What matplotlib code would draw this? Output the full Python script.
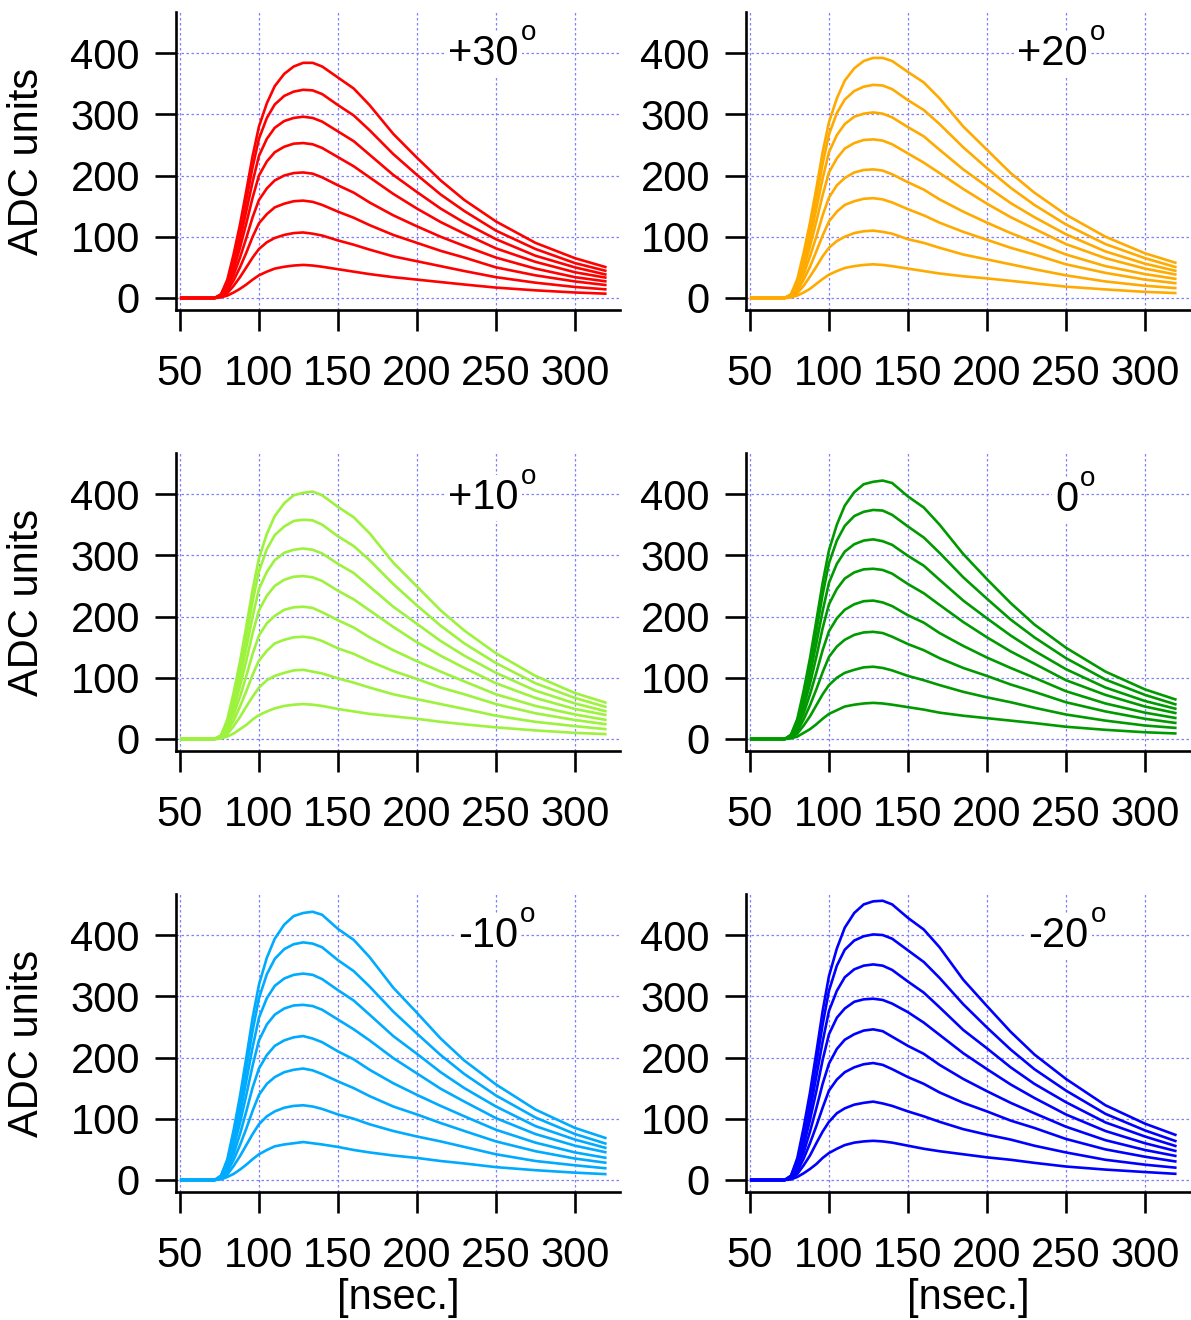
import matplotlib
matplotlib.use("Agg")
import matplotlib.pyplot as plt

plt.rcParams['font.family'] = ['Liberation Sans', 'DejaVu Sans']

# time axis [nsec.]
T_NS = [50, 72, 76, 80, 84, 88, 92, 96, 100, 105, 110, 116, 122, 128, 134,
        140, 150, 160, 170, 185, 200, 215, 230, 250, 275, 300, 320]

# ADC units, 8 pulses per angle (lowest to highest)
P30 = [
    [0, 0, 1, 4, 9, 15, 22, 30, 37, 43, 48, 51, 53, 54, 53, 51, 47, 43, 39, 34, 30, 26, 22, 17, 12.5, 9, 7],
    [0, 0, 2, 8, 20, 34, 50, 66, 80, 91, 98, 103, 106, 107, 105, 102, 94, 87, 79, 68, 60, 52, 44, 34, 25, 18, 14],
    [0, 0, 3, 12, 29, 50, 74, 100, 122, 137, 148, 154, 158, 159, 157, 152, 141, 131, 119, 103, 90, 77, 66, 50, 37, 27, 21],
    [0, 0, 4, 16, 38, 66, 98, 132, 160, 179, 192, 200, 204, 205, 203, 197, 184, 172, 156, 135, 117, 100, 85, 66, 48, 34, 27],
    [0, 0, 5, 20, 47, 82, 122, 164, 200, 223, 238, 247, 252, 253, 251, 245, 230, 215, 197, 170, 146, 124, 105, 81, 59, 42, 33],
    [0, 0, 5, 24, 54, 95, 142, 190, 232, 260, 278, 289, 294, 296, 294, 288, 272, 256, 234, 201, 173, 146, 123, 96, 69, 50, 38],
    [0, 0, 6, 27, 62, 108, 160, 214, 260, 294, 316, 330, 337, 340, 339, 333, 315, 298, 274, 235, 201, 169, 142, 110, 80, 57, 44],
    [0, 0, 6, 30, 72, 120, 175, 232, 280, 318, 346, 366, 378, 384, 384, 378, 360, 342, 315, 268, 229, 192, 160, 125, 90, 65, 50],
]
P20 = [
    [0, 0, 1, 4, 9, 15, 23, 31, 38, 44, 49, 52, 54, 55, 54, 52, 48, 44, 40, 35.5, 32, 28, 24, 18.5, 14, 10, 8],
    [0, 0, 2, 8, 20, 35, 51, 68, 82, 93, 100, 106, 109, 110, 108, 105, 96, 90, 82, 71, 63, 55, 47, 37, 27, 20, 16],
    [0, 0, 3, 12, 30, 51, 76, 102, 125, 141, 152, 158, 162, 163, 161, 156, 145, 135, 123, 108, 95, 82, 71, 55, 41, 30, 24],
    [0, 0, 4, 16, 39, 68, 100, 135, 164, 184, 196, 205, 209, 210, 208, 202, 189, 177, 161, 141, 123, 106, 91, 71, 52, 39, 31],
    [0, 0, 5, 20, 48, 84, 125, 168, 205, 228, 244, 253, 258, 259, 257, 251, 236, 221, 204, 178, 154, 132, 113, 88, 65, 48, 38],
    [0, 0, 5, 25, 55, 97, 146, 195, 238, 266, 284, 296, 301, 303, 301, 295, 279, 264, 242, 210, 182, 155, 132, 104, 76, 56, 44],
    [0, 0, 6, 28, 64, 111, 164, 219, 267, 302, 324, 338, 345, 348, 347, 341, 323, 307, 284, 246, 212, 180, 152, 120, 88, 65, 50],
    [0, 0, 6, 31, 74, 123, 179, 238, 287, 326, 355, 375, 387, 392, 392, 387, 369, 352, 326, 280, 242, 204, 172, 136, 100, 73, 57],
]
P10 = [
    [0, 0, 1, 4, 9, 16, 23, 32, 39, 45, 50, 54, 56, 57, 56, 54, 49, 45, 41, 37, 33, 28, 24, 19, 14, 10, 8],
    [0, 0, 2, 8, 21, 36, 53, 69, 84, 96, 103, 108, 112, 113, 110, 107, 99, 92, 84, 73, 65, 57, 49, 38, 28, 21, 16],
    [0, 0, 3, 13, 30, 53, 78, 105, 128, 144, 156, 162, 166, 167, 165, 160, 148, 139, 127, 111, 98, 84, 73, 57, 42, 31, 24],
    [0, 0, 4, 17, 40, 69, 103, 139, 169, 189, 201, 211, 215, 216, 214, 207, 194, 182, 166, 145, 127, 110, 94, 73, 54, 40, 31],
    [0, 0, 5, 21, 49, 86, 128, 173, 210, 234, 250, 260, 265, 266, 264, 258, 242, 228, 210, 183, 158, 136, 116, 91, 67, 49, 39],
    [0, 0, 5, 25, 57, 100, 149, 200, 245, 273, 292, 304, 309, 311, 309, 303, 286, 271, 249, 216, 188, 160, 136, 108, 79, 58, 45],
    [0, 0, 6, 28, 65, 114, 168, 225, 274, 310, 333, 347, 356, 358, 357, 350, 331, 315, 292, 253, 218, 185, 156, 124, 91, 67, 52],
    [0, 0, 6, 32, 76, 126, 184, 244, 295, 335, 364, 385, 398, 402, 404, 398, 379, 362, 336, 288, 249, 210, 177, 140, 103, 75, 59],
]
P0 = [
    [0, 0, 1, 4, 10, 16, 24, 33, 41, 47, 53, 56, 58, 59, 58, 56, 52, 48, 43, 38, 34, 30, 26, 20, 15, 11, 9],
    [0, 0, 2, 9, 22, 37, 55, 73, 88, 100, 108, 113, 117, 118, 116, 112, 103, 96, 88, 77, 68, 60, 51, 40, 30, 22, 18],
    [0, 0, 3, 13, 32, 55, 81, 109, 134, 151, 162, 170, 174, 175, 173, 167, 155, 145, 132, 116, 103, 89, 77, 60, 45, 33, 26],
    [0, 0, 4, 18, 42, 73, 108, 145, 176, 197, 211, 220, 225, 226, 223, 217, 202, 190, 173, 152, 133, 116, 100, 78, 58, 43, 34],
    [0, 0, 5, 22, 52, 90, 134, 181, 220, 245, 262, 272, 277, 278, 276, 270, 253, 238, 219, 191, 166, 143, 123, 96, 72, 53, 42],
    [0, 0, 5, 26, 59, 105, 156, 209, 255, 286, 306, 318, 324, 326, 323, 317, 299, 283, 260, 226, 197, 169, 144, 114, 84, 62, 49],
    [0, 0, 7, 30, 68, 119, 176, 236, 287, 324, 348, 364, 371, 374, 373, 366, 347, 329, 304, 264, 229, 195, 166, 132, 97, 72, 56],
    [0, 0, 7, 33, 79, 132, 193, 255, 308, 350, 381, 403, 416, 420, 422, 418, 396, 378, 350, 302, 261, 222, 187, 149, 110, 81, 64],
]
M10 = [
    [0, 0, 1, 5, 10, 17, 25, 34, 42, 49, 55, 58, 60, 62, 60, 58, 54, 49, 45, 40, 36, 31, 27, 21, 16, 12, 9.5],
    [0, 0, 2, 9, 23, 39, 57, 75, 91, 104, 112, 118, 121, 122, 120, 116, 107, 100, 91, 80, 71, 63, 54, 42, 31, 24, 19],
    [0, 0, 3, 14, 33, 57, 84, 113, 139, 157, 168, 176, 180, 182, 179, 173, 161, 150, 137, 120, 107, 93, 80, 63, 47, 35, 28],
    [0, 0, 5, 18, 43, 75, 112, 151, 182, 204, 219, 228, 233, 235, 231, 225, 210, 197, 180, 158, 139, 121, 104, 82, 61, 45, 36],
    [0, 0, 6, 23, 54, 93, 139, 187, 228, 254, 270, 280, 285, 286, 284, 278, 262, 246, 228, 199, 174, 149, 128, 101, 75, 56, 45],
    [0, 0, 6, 27, 62, 108, 162, 217, 265, 297, 317, 329, 335, 337, 335, 328, 310, 293, 270, 235, 206, 176, 150, 120, 88, 66, 52],
    [0, 0, 7, 31, 71, 123, 182, 244, 297, 336, 361, 377, 385, 388, 386, 380, 359, 341, 316, 275, 239, 204, 173, 138, 102, 75, 59],
    [0, 0, 7, 34, 82, 137, 200, 265, 319, 363, 394, 417, 431, 436, 438, 433, 410, 392, 364, 314, 273, 231, 195, 156, 115, 85, 68],
]
M20 = [
    [0, 0, 1, 5, 11, 18, 26, 36, 44, 51, 57, 61, 63, 64, 63, 61, 56, 51, 47, 42, 37, 33, 28, 22, 17, 13, 10],
    [0, 0, 2, 10, 24, 40, 60, 79, 95, 109, 117, 123, 126, 128, 125, 121, 112, 104, 95, 83, 74, 66, 56, 45, 33, 25, 20],
    [0, 0, 4, 14, 35, 60, 88, 118, 146, 164, 176, 184, 189, 191, 188, 181, 168, 157, 143, 126, 112, 97, 85, 67, 50, 38, 30],
    [0, 0, 5, 19, 45, 79, 117, 157, 190, 214, 229, 238, 244, 246, 243, 234, 219, 206, 188, 165, 145, 126, 109, 87, 65, 49, 39],
    [0, 0, 6, 24, 56, 98, 145, 196, 238, 265, 280, 291, 295, 296, 294, 288, 274, 257, 237, 207, 181, 156, 134, 107, 80, 60, 47],
    [0, 0, 6, 29, 64, 113, 169, 226, 276, 309, 331, 344, 350, 352, 350, 343, 324, 306, 282, 245, 215, 184, 157, 127, 94, 71, 55],
    [0, 0, 7, 32, 74, 129, 190, 254, 309, 350, 376, 391, 398, 401, 400, 394, 375, 356, 330, 287, 249, 213, 181, 146, 108, 81, 63],
    [0, 0, 7, 36, 86, 143, 208, 276, 333, 378, 412, 436, 450, 455, 456, 450, 428, 409, 380, 327, 284, 242, 205, 165, 122, 92, 73],
]

ANGLE_LABELS = ['+30', '+20', '+10', '0', '-10', '-20']
PANEL_DATA = [P30, P20, P10, P0, M10, M20]
COLORS = ['#ff0000', '#ffaa00', '#9cf23c', '#009a00', '#00aaff', '#0000ff']
X_TICKS = [50, 100, 150, 200, 250, 300]
Y_TICKS = [0, 100, 200, 300, 400]

W, H = 1191, 1320
fig = plt.figure(figsize=(W / 100, H / 100), dpi=100)

col_left = [176, 746]
ax_w = 444
row_top = [12, 453, 894]
ax_h = 298
label_x = [0.772, 0.770, 0.772, 0.748, 0.770, 0.772]
label_y = [0.822, 0.822, 0.812, 0.806, 0.823, 0.823]

for i, (data, color, lab) in enumerate(zip(PANEL_DATA, COLORS, ANGLE_LABELS)):
    r, c = divmod(i, 2)
    x0 = col_left[c] / W
    y0 = 1 - (row_top[r] + ax_h) / H
    ax = fig.add_axes([x0, y0, ax_w / W, ax_h / H])
    for series in data:
        ax.plot(T_NS, series, color=color, lw=1.9, solid_joinstyle='round',
                solid_capstyle='butt', zorder=2)
    ax.set_xlim(47.5, 328.5)
    ax.set_ylim(-19.6, 467)
    ax.set_xticks(X_TICKS)
    ax.set_yticks(Y_TICKS)
    ax.grid(True, color='#7f7fff', linestyle=(0, (2, 2)), lw=0.9)
    ax.set_axisbelow(True)
    for s in ['top', 'right']:
        ax.spines[s].set_visible(False)
    for s in ['left', 'bottom']:
        ax.spines[s].set_linewidth(1.9)
    ax.tick_params(axis='both', direction='out', length=15, width=1.9,
                   labelsize=30, colors='black')
    ax.tick_params(axis='y', pad=11)
    ax.tick_params(axis='x', pad=17)
    ax.text(label_x[i], label_y[i], lab, transform=ax.transAxes,
            ha='right', va='baseline', fontsize=30,
            bbox=dict(facecolor='white', edgecolor='none', pad=2), zorder=5)
    ax.annotate('o', xy=(label_x[i], label_y[i]), xycoords='axes fraction',
                xytext=(1.5, 18), textcoords='offset points',
                ha='left', va='baseline', fontsize=20,
                bbox=dict(facecolor='white', edgecolor='none', pad=1), zorder=5)
    if c == 0:
        ax.set_ylabel('ADC units', fontsize=30)
        ax.yaxis.set_label_coords(-0.291, 0.5)
    if r == 2:
        ax.set_xlabel('[nsec.]', fontsize=30)
        ax.xaxis.set_label_coords(0.5, -0.287)

fig.savefig('out.png', dpi=100)
